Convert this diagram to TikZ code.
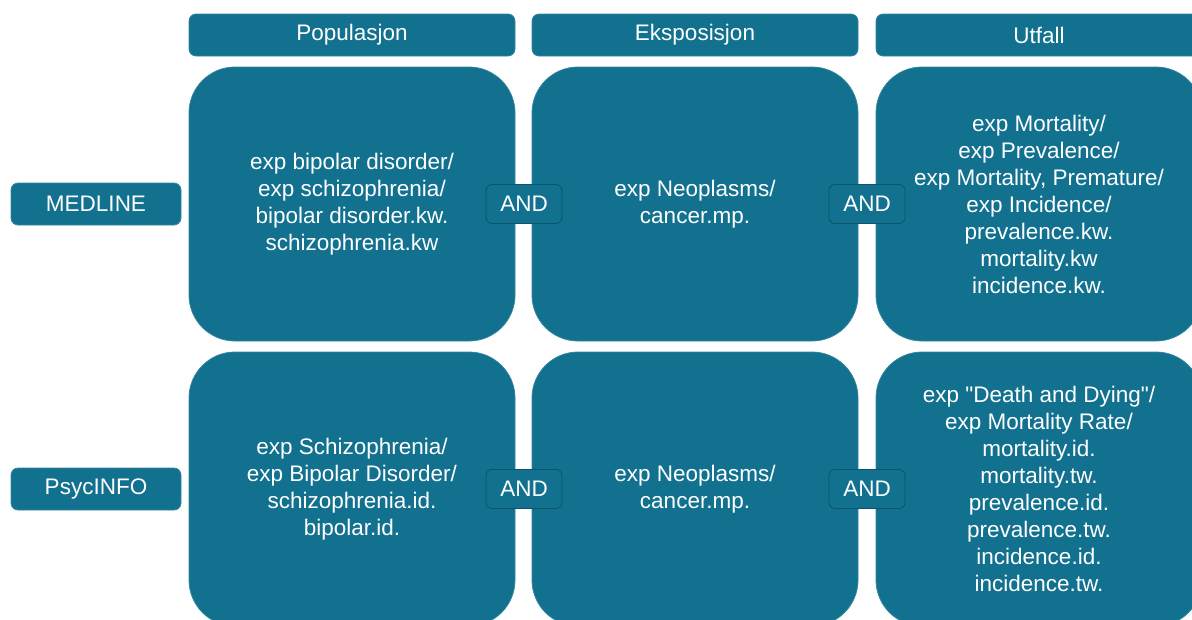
\documentclass[tikz,border=0pt]{standalone}
\usepackage{fontspec}
\setmainfont{Liberation Sans}[Ligatures=TeXOff]
\usepackage{tikz}
\usetikzlibrary{positioning}
\definecolor{teal1}{RGB}{17,113,143}
\definecolor{tealdark}{RGB}{10,84,108}

\begin{document}
\begin{tikzpicture}[x=1pt,y=-1pt,
    box/.style={fill=teal1,draw=teal1!85!white,line width=0.8pt,text=white,align=center,inner sep=0pt,
      font=\fontsize{22.5}{27}\selectfont},
    headbox/.style={box,rounded corners=7pt,minimum width=326pt,minimum height=42pt},
    dbbox/.style={box,rounded corners=7pt,minimum width=170pt,minimum height=42pt},
    bigbox/.style={box,rounded corners=46pt,minimum width=326pt,minimum height=274pt},
    andbox/.style={box,draw=tealdark,rounded corners=6pt,minimum width=76pt,minimum height=39pt}]
    \clip (0,0) rectangle (1192,619);

    % Headers
    \node[headbox] (hpop) at (352,35) {Populasjon};
    \node[headbox] (hexp) at (695,35) {Eksposisjon};
    \node[headbox] (hutf) at (1039,35) {Utfall};

    % Databases
    \node[dbbox] (medline) at (96,204) {MEDLINE};
    \node[dbbox] (psycinfo) at (96,489) {PsycINFO};

    % MEDLINE row
    \node[bigbox] (pop1) at (352,204) {exp bipolar disorder/\\exp schizophrenia/\\bipolar disorder.kw.\\schizophrenia.kw};
    \node[bigbox] (exp1) at (695,204) {exp Neoplasms/\\cancer.mp.};
    \node[bigbox] (utf1) at (1039,204) {exp Mortality/\\exp Prevalence/\\exp Mortality, Premature/\\exp Incidence/\\prevalence.kw.\\mortality.kw\\incidence.kw.};

    % PsycINFO row
    \node[bigbox] (pop2) at (352,489) {exp Schizophrenia/\\exp Bipolar Disorder/\\schizophrenia.id.\\bipolar.id.};
    \node[bigbox] (exp2) at (695,489) {exp Neoplasms/\\cancer.mp.};
    \node[bigbox] (utf2) at (1039,489) {exp "Death and Dying"/\\exp Mortality Rate/\\mortality.id.\\mortality.tw.\\prevalence.id.\\prevalence.tw.\\incidence.id.\\incidence.tw.};

    % AND between boxes
    \node[andbox] (and1a) at (524,204) {AND};
    \node[andbox] (and1b) at (867,204) {AND};
    \node[andbox] (and2a) at (524,489) {AND};
    \node[andbox] (and2b) at (867,489) {AND};
\end{tikzpicture}
\end{document}
